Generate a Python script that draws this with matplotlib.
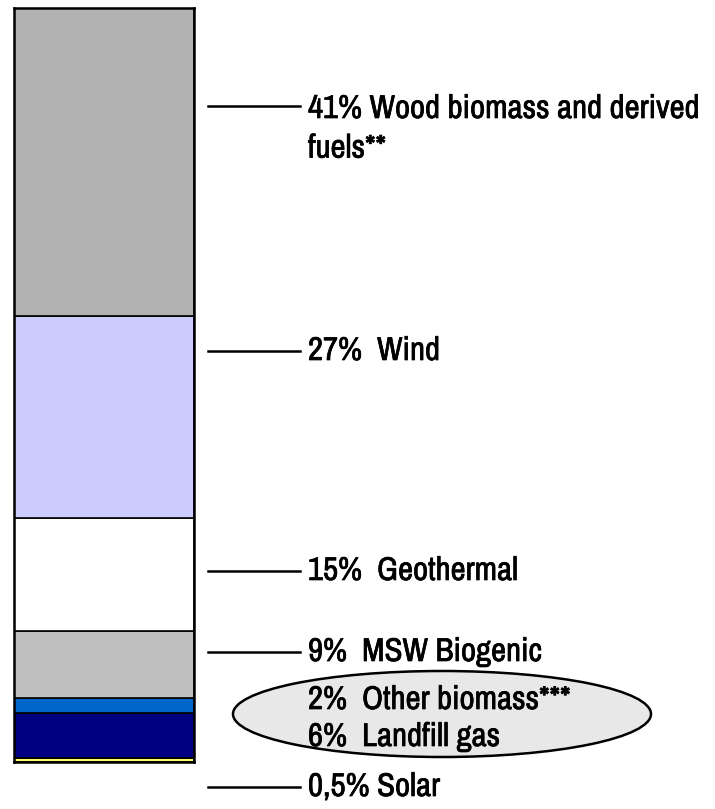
import matplotlib.pyplot as plt
import matplotlib.patheffects as pe
from matplotlib.patches import Ellipse

# stacked from the bottom up
sources = ["Solar", "Landfill gas", "Other biomass***", "MSW Biogenic",
           "Geothermal", "Wind", "Wood biomass and derived fuels**"]
shares = [0.5, 6, 2, 9, 15, 27, 41]
colors = ["#ffff66", "#000080", "#0066cc", "#c0c0c0",
          "#ffffff", "#ccccff", "#b2b2b2"]

label_texts = ["41% Wood biomass and derived\nfuels**", "27%  Wind",
               "15%  Geothermal", "9%  MSW Biogenic", "0,5% Solar"]
label_ypx = [106, 351, 571, 652, 787]
oval_texts = ["2%  Other biomass***", "6%  Landfill gas"]
oval_ypx = [700, 737]

W, H = 715, 809
plt.rcParams["font.family"] = ["Archivo Narrow", "DejaVu Sans"]
fsize = 23.7
bold_fx = [pe.withStroke(linewidth=0.5, foreground="black")]

fig = plt.figure(figsize=(W / 100, H / 100), dpi=100)
ax = fig.add_axes([14 / W, (H - 762) / H, 180 / W, 754 / H])

bottom = 0
for s, c in zip(shares, colors):
    ax.bar(0, s, width=1, bottom=bottom, color=c, edgecolor="black",
           linewidth=1.2)
    bottom += s
ax.set_xlim(-0.5, 0.5)
ax.set_ylim(0, bottom)
ax.set_xticks([])
ax.set_yticks([])
for sp in ax.spines.values():
    sp.set_linewidth(1.8)


def fy(px):
    return 1 - px / H


for txt, y in zip(label_texts, label_ypx):
    fig.add_artist(plt.Line2D([208 / W, 300 / W], [fy(y), fy(y)],
                              color="black", linewidth=1.8))
    if "\n" in txt:
        fig.text(308 / W, fy(y - 12), txt, fontsize=fsize, va="top",
                 ha="left", linespacing=1.4, path_effects=bold_fx)
    else:
        fig.text(308 / W, fy(y), txt, fontsize=fsize, va="center", ha="left",
                 path_effects=bold_fx)

oval = Ellipse((442 / W, fy(714)), 418 / W, 86 / H, transform=fig.transFigure,
               facecolor="#e8e8e8", edgecolor="black", linewidth=1.8)
fig.add_artist(oval)
for txt, y in zip(oval_texts, oval_ypx):
    fig.text(308 / W, fy(y), txt, fontsize=fsize, va="center", ha="left",
             path_effects=bold_fx)

fig.savefig("out.png", dpi=100)
